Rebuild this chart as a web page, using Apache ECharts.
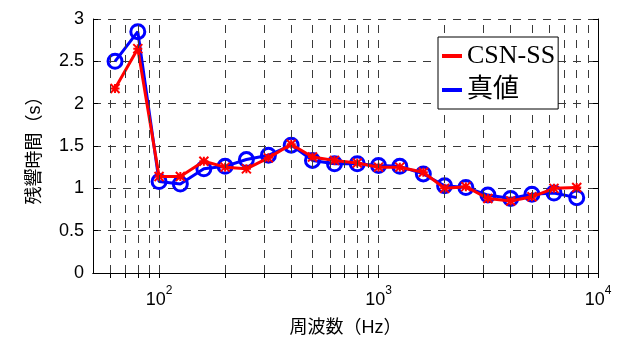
<!DOCTYPE html>
<html><head><meta charset="utf-8">
<script src="https://cdn.jsdelivr.net/npm/echarts@6/dist/echarts.min.js"></script>
<style>html,body{margin:0;padding:0;background:#fff}#c{width:620px;height:340px}</style>
</head><body><div id="c"></div>
<script>
// Data
const freqs = [63,80,100,125,160,200,250,315,400,500,630,800,1000,1250,1600,2000,2500,3150,4000,5000,6300,8000];
const csnSS = [2.18,2.65,1.14,1.14,1.32,1.25,1.23,1.36,1.52,1.37,1.33,1.30,1.25,1.25,1.19,1.00,1.02,0.88,0.85,0.90,1.00,1.01];
const trueVals = [2.50,2.85,1.08,1.05,1.23,1.26,1.34,1.39,1.51,1.33,1.29,1.29,1.27,1.26,1.17,1.03,1.01,0.92,0.88,0.93,0.945,0.89];
const xMajorTicks = [100,1000,10000];
const xMinorTicks = [60,70,80,90,100,200,300,400,500,600,700,800,900,1000,2000,3000,4000,5000,6000,7000,8000,9000,10000];
const yTicks = [0,0.5,1,1.5,2,2.5,3];
const seriesNames = ['CSN-SS','真値'];

const chart = echarts.init(document.getElementById('c'), null, {renderer:'canvas'});
const gridLineStyle = {color:'#3a3a3a', width:1, type:[8,7]};
const cross = 'path://M0,0L10,10M10,0L0,10M5,0L5,10M0,5L10,5';
const option = {
  animation:false,
  backgroundColor:'#fff',
  grid:{left:93, top:19, right:22, bottom:67, containLabel:false, outerBoundsMode:'none'},
  xAxis:[{
    type:'log', logBase:10, min:50, max:10000, position:'bottom',
    axisLine:{show:true, lineStyle:{color:'#000', width:1}},
    axisTick:{show:true, inside:true, length:5, customValues:xMinorTicks, lineStyle:{color:'#000'}},
    axisLabel:{show:true, customValues:xMajorTicks, margin:12, color:'#000',
      formatter:function(v){return '{b|10}{s|'+Math.round(Math.log10(v))+'}';},
      rich:{b:{fontSize:18, fontFamily:'Liberation Sans', color:'#000', lineHeight:24, verticalAlign:'bottom'},
            s:{fontSize:12, fontFamily:'Liberation Sans', color:'#000', verticalAlign:'top', lineHeight:24}}},
    splitLine:{show:false},
    name:'周波数（Hz）', nameLocation:'middle', nameGap:46,
    nameTextStyle:{fontSize:18, color:'#000', fontFamily:"'Liberation Sans','Noto Sans CJK JP'"}
  },{
    type:'log', logBase:10, min:50, max:10000, position:'top',
    axisLine:{show:true, lineStyle:{color:'#000', width:1}},
    axisTick:{show:true, inside:true, length:5, customValues:xMinorTicks, lineStyle:{color:'#000'}},
    axisLabel:{show:false}, splitLine:{show:false}
  }],
  yAxis:[{
    type:'value', min:0, max:3, interval:0.5, position:'left',
    axisLine:{show:true, lineStyle:{color:'#000', width:1}},
    axisTick:{show:true, inside:true, length:5, lineStyle:{color:'#000'}},
    axisLabel:{fontSize:18, color:'#000', fontFamily:'Liberation Sans', margin:9,
      formatter:function(v){return String(v);}},
    splitLine:{show:true, lineStyle:gridLineStyle},
    name:'残響時間（s）', nameLocation:'middle', nameGap:49, nameRotate:90,
    nameTextStyle:{fontSize:18, color:'#000', fontFamily:"'Liberation Sans','Noto Sans CJK JP'"}
  },{
    type:'value', min:0, max:3, interval:0.5, position:'right',
    axisLine:{show:true, lineStyle:{color:'#000', width:1}},
    axisTick:{show:true, inside:true, length:5, lineStyle:{color:'#000'}},
    axisLabel:{show:false}, splitLine:{show:false}
  }],
  legend:{
    data:[{name:seriesNames[0], icon:'rect', itemStyle:{color:'#ff0000', borderWidth:0}},
          {name:seriesNames[1], icon:'rect', itemStyle:{color:'#0000ff', borderWidth:0}}],
    orient:'vertical', left:438, top:37, itemWidth:20, itemHeight:4, itemGap:6,
    padding:[5,3,5,4], borderColor:'#000', borderWidth:1, backgroundColor:'#fff',
    textStyle:{fontSize:26, color:'#000', fontFamily:"'Liberation Serif','Noto Sans CJK JP'", lineHeight:28},
    selectedMode:false, z:10
  },
  series:[
    {type:'line', name:'_grid', data:[], silent:true, z:1,
     markLine:{silent:true, symbol:['none','none'], label:{show:false}, animation:false,
       lineStyle:gridLineStyle,
       data:xMinorTicks.filter(v=>v<10000).map(v=>({xAxis:v}))}},
    {type:'line', name:seriesNames[1], data:freqs.map((f,i)=>[f,trueVals[i]]), z:3,
     lineStyle:{color:'#0000ff', width:3}, symbol:'circle', symbolSize:14,
     itemStyle:{color:'rgba(0,0,0,0)', borderColor:'#0000ff', borderWidth:3}},
    {type:'line', name:seriesNames[0], data:freqs.map((f,i)=>[f,csnSS[i]]), z:4,
     lineStyle:{color:'#ff0000', width:3}, symbol:cross, symbolSize:9,
     itemStyle:{color:'#ff0000', borderColor:'#ff0000', borderWidth:2}}
  ]
};
chart.setOption(option);
</script></body></html>
